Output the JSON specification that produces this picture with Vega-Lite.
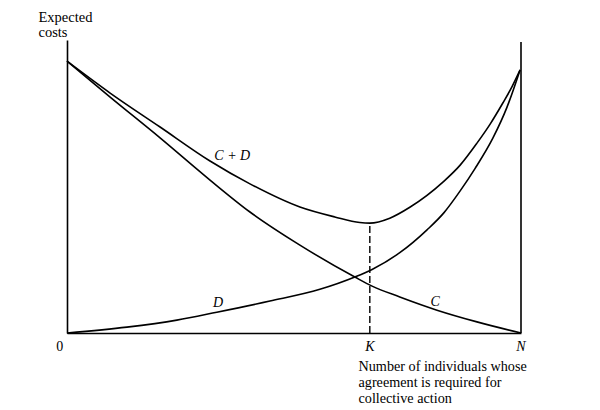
{
  "$schema": "https://vega.github.io/schema/vega-lite/v6.json",
  "width": 454,
  "height": 293,
  "autosize": "none",
  "padding": {"left": 67, "top": 40, "right": 79, "bottom": 77},
  "background": "white",
  "config": {"view": {"stroke": null}, "font": "Liberation Serif"},
  "datasets": {
    "curves": [
      {"series": "C", "x": 0, "y": 92.8},
      {"series": "C", "x": 9.5, "y": 80.5},
      {"series": "C", "x": 20.5, "y": 66.6},
      {"series": "C", "x": 31.5, "y": 52.2},
      {"series": "C", "x": 40.3, "y": 41.3},
      {"series": "C", "x": 51.3, "y": 30.0},
      {"series": "C", "x": 63.4, "y": 19.1},
      {"series": "C", "x": 67.2, "y": 16.0},
      {"series": "C", "x": 73.3, "y": 12.3},
      {"series": "C", "x": 81.5, "y": 7.8},
      {"series": "C", "x": 90.3, "y": 3.8},
      {"series": "C", "x": 100, "y": 0},
      {"series": "D", "x": 0, "y": 0},
      {"series": "D", "x": 13.2, "y": 2.0},
      {"series": "D", "x": 24.2, "y": 4.4},
      {"series": "D", "x": 33.0, "y": 7.1},
      {"series": "D", "x": 44.7, "y": 10.9},
      {"series": "D", "x": 55.7, "y": 14.9},
      {"series": "D", "x": 63.4, "y": 19.1},
      {"series": "D", "x": 67.2, "y": 21.7},
      {"series": "D", "x": 73.3, "y": 27.4},
      {"series": "D", "x": 79.3, "y": 35.2},
      {"series": "D", "x": 83.0, "y": 41.0},
      {"series": "D", "x": 86.6, "y": 48.5},
      {"series": "D", "x": 89.9, "y": 56.2},
      {"series": "D", "x": 93.8, "y": 66.5},
      {"series": "D", "x": 96.9, "y": 77.0},
      {"series": "D", "x": 99.8, "y": 89.8},
      {"series": "C + D", "x": 0, "y": 92.8},
      {"series": "C + D", "x": 9.5, "y": 81.9},
      {"series": "C + D", "x": 20.5, "y": 70.3},
      {"series": "C + D", "x": 31.5, "y": 58.7},
      {"series": "C + D", "x": 40.3, "y": 50.9},
      {"series": "C + D", "x": 51.3, "y": 43.0},
      {"series": "C + D", "x": 59.0, "y": 39.6},
      {"series": "C + D", "x": 64.5, "y": 37.7},
      {"series": "C + D", "x": 66.7, "y": 37.5},
      {"series": "C + D", "x": 71.1, "y": 39.2},
      {"series": "C + D", "x": 75.6, "y": 43.0},
      {"series": "C + D", "x": 82.8, "y": 51.5},
      {"series": "C + D", "x": 86.6, "y": 57.3},
      {"series": "C + D", "x": 90.3, "y": 64.8},
      {"series": "C + D", "x": 93.2, "y": 71.3},
      {"series": "C + D", "x": 96.0, "y": 78.5},
      {"series": "C + D", "x": 98.0, "y": 84.0},
      {"series": "C + D", "x": 99.8, "y": 89.8}
    ],
    "rules": [
      {"kind": "dashed", "x": 66.7, "y": 0, "y2": 37.5},
      {"kind": "solid", "x": 100, "y": 0, "y2": 99.3}
    ],
    "labels": [
      {"label": "C + D", "x": 36.4, "y": 60.4, "style": "italic"},
      {"label": "D", "x": 33.3, "y": 10.2, "style": "italic"},
      {"label": "C", "x": 81.1, "y": 10.6, "style": "italic"},
      {"label": "0", "x": -1.6, "y": -4.9, "style": "normal"},
      {"label": "K", "x": 66.7, "y": -4.9, "style": "italic"},
      {"label": "N", "x": 100, "y": -4.9, "style": "italic"}
    ]
  },
  "layer": [
    {
      "data": {"name": "curves"},
      "mark": {"type": "line", "interpolate": "monotone", "color": "black", "strokeWidth": 1.6},
      "encoding": {
        "x": {
          "field": "x", "type": "quantitative",
          "scale": {"domain": [0, 100], "nice": false},
          "axis": {
            "values": [], "labels": false,
            "ticks": false, "grid": false,
            "domainColor": "black", "domainWidth": 1.6,
            "title": ["Number of individuals whose", "agreement is required for", "collective action"],
            "titleFont": "Liberation Serif", "titleFontSize": 14.2, "titleFontWeight": "normal",
            "titleColor": "black", "titleAlign": "left", "titleAnchor": "start",
            "titleBaseline": "top", "titleX": 291, "titleY": 26, "titleLineHeight": 16
          }
        },
        "y": {
          "field": "y", "type": "quantitative",
          "scale": {"domain": [0, 100], "nice": false},
          "axis": {
            "ticks": false, "labels": false, "grid": false,
            "domainColor": "black", "domainWidth": 1.6,
            "title": ["Expected", "costs"],
            "titleFont": "Liberation Serif", "titleFontSize": 14.5, "titleFontWeight": "normal",
            "titleColor": "black", "titleAngle": 0, "titleAlign": "left",
            "titleBaseline": "top", "titleX": -29, "titleY": -30, "titleLineHeight": 15
          }
        },
        "detail": {"field": "series", "type": "nominal"}
      }
    },
    {
      "data": {"name": "rules"},
      "transform": [{"filter": "datum.kind == 'dashed'"}],
      "mark": {"type": "rule", "color": "black", "strokeWidth": 1.4, "strokeDash": [7, 3]},
      "encoding": {
        "x": {"field": "x", "type": "quantitative"},
        "y": {"field": "y", "type": "quantitative"},
        "y2": {"field": "y2"}
      }
    },
    {
      "data": {"name": "rules"},
      "transform": [{"filter": "datum.kind == 'solid'"}],
      "mark": {"type": "rule", "color": "black", "strokeWidth": 1.6},
      "encoding": {
        "x": {"field": "x", "type": "quantitative"},
        "y": {"field": "y", "type": "quantitative"},
        "y2": {"field": "y2"}
      }
    },
    {
      "data": {"name": "labels"},
      "transform": [{"filter": "datum.style == 'italic'"}],
      "mark": {"type": "text", "font": "Liberation Serif", "fontStyle": "italic", "fontSize": 14, "color": "black"},
      "encoding": {
        "x": {"field": "x", "type": "quantitative"},
        "y": {"field": "y", "type": "quantitative"},
        "text": {"field": "label", "type": "nominal"}
      }
    },
    {
      "data": {"name": "labels"},
      "transform": [{"filter": "datum.style == 'normal'"}],
      "mark": {"type": "text", "font": "Liberation Serif", "fontStyle": "normal", "fontSize": 14, "color": "black"},
      "encoding": {
        "x": {"field": "x", "type": "quantitative"},
        "y": {"field": "y", "type": "quantitative"},
        "text": {"field": "label", "type": "nominal"}
      }
    }
  ]
}
